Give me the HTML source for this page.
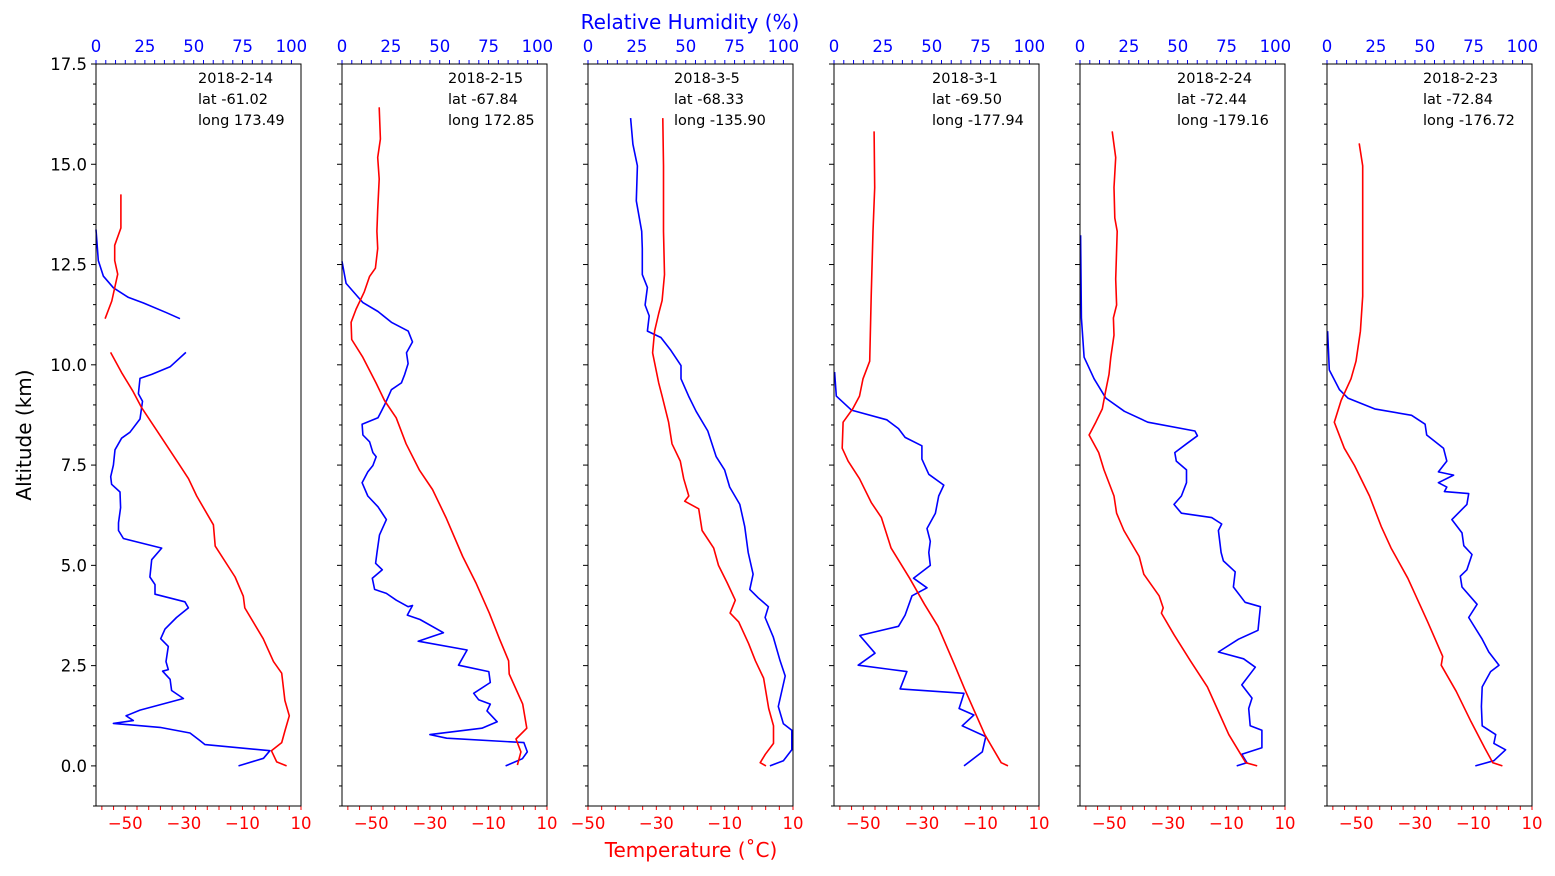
<!DOCTYPE html>
<html><head><meta charset="utf-8"><style>
html,body{margin:0;padding:0;background:#fff;}
svg{display:block;font-family:"DejaVu Sans","Liberation Sans",sans-serif;}
</style></head><body>
<svg id="chart" width="1555" height="876" viewBox="0 0 1555 876" xmlns="http://www.w3.org/2000/svg">
<text x="690" y="29" font-size="20" fill="#0000ff" text-anchor="middle">Relative Humidity (%)</text>
<text x="691" y="857" font-size="20" fill="#ff0000" text-anchor="middle">Temperature (˚C)</text>
<text x="0" y="0" font-size="20" fill="#000" text-anchor="middle" transform="translate(31,435) rotate(-90)">Altitude (km)</text>
</svg>
<script>
// ---- data (altitude km, temperature degC, relative humidity %) ----
const dates = ["2018-2-14","2018-2-15","2018-3-5","2018-3-1","2018-2-24","2018-2-23"];
const lats = ["-61.02","-67.84","-68.33","-69.50","-72.44","-72.84"];
const longs = ["173.49","172.85","-135.90","-177.94","-179.16","-176.72"];
const yTicks = [0,2.5,5,7.5,10,12.5,15,17.5];
const rhTicks = [0,25,50,75,100];
const tTicksA = [-50,-30,-10,10];

// panel 1 (null = data gap)
const p1TAlt = [14.25,13.41,12.98,12.6,12.26,11.59,11.15,null,10.31,9.81,9.33,8.94,8.37,7.55,7.16,6.73,6.01,5.48,4.71,4.23,3.94,3.17,2.6,2.31,1.63,1.25,0.87,0.58,0.38,0.1,0];
const p1T = [-51.5,-51.5,-53.6,-53.6,-52.6,-54.6,-56.9,null,-55.0,-51.3,-47.3,-44.5,-39.3,-31.9,-28.4,-25.6,-19.9,-19.3,-12.5,-9.7,-9.2,-2.9,0.6,3.4,4.5,6.0,4.5,3.4,-0.1,1.7,5.1];
const p1HAlt = [13.37,12.6,12.21,11.92,11.68,11.54,11.3,11.15,null,10.31,9.95,9.76,9.66,9.28,9.09,8.65,8.32,8.17,7.88,7.5,7.21,7.02,6.83,6.44,6.06,5.87,5.67,5.43,5.14,4.71,4.52,4.28,4.09,3.94,3.7,3.41,3.17,2.98,2.6,2.4,2.36,2.16,1.88,1.68,1.39,1.25,1.13,1.06,0.96,0.82,0.63,0.53,0.38,0.19,0];
const p1H = [0,1.2,3.8,8.9,16.6,24.3,36.1,43,null,46,37.9,28.5,22.5,21.7,23.8,22.5,17.4,13.1,9.7,8.9,7.5,8,12.3,12.6,11.5,11.5,14,33.6,28.5,27.6,30.2,30.2,45.5,47.3,41.2,35.3,33.1,37,35.8,37,34.1,37.9,38.7,44.7,22.5,15.4,19.1,8.9,32.8,48.1,53.2,55.8,89,85.7,72.9];

// panel 2
const p2TAlt = [16.42,15.63,15.17,14.63,13.87,13.33,12.9,12.41,12.2,11.82,11.39,11.06,10.63,10.19,9.55,9.11,8.68,8.03,7.38,6.89,6.19,5.22,4.57,3.81,3.16,2.62,2.29,1.54,0.94,0.67,0.35,0.02];
const p2T = [-47.3,-46.9,-47.8,-47.3,-47.8,-48.1,-47.8,-48.6,-50.6,-52.4,-55.2,-56.9,-56.7,-52.9,-48.4,-45.5,-41.5,-38.1,-33.6,-29.1,-24.5,-18.8,-14.3,-9.7,-6.2,-3.1,-2.9,1.7,3.1,-0.6,1.1,-0.1];
const p2HAlt = [12.58,12.03,11.55,11.33,11.06,10.84,10.57,10.3,10.03,9.76,9.55,9.38,9.0,8.68,8.52,8.25,8.08,7.81,7.71,7.49,7.33,7.06,6.73,6.46,6.14,5.76,5.32,5.05,4.89,4.68,4.4,4.3,4.13,3.97,4.0,3.76,3.65,3.32,3.11,2.89,2.51,2.35,2.08,1.81,1.65,1.54,1.37,1.1,0.94,0.78,0.69,0.58,0.35,0.18,0];
const p2H = [0,2.1,10.7,18.4,25.3,33.9,36.1,33,33.8,32.1,30.4,25.3,21.8,18.4,10.3,10.7,14.1,15.8,17.5,15.8,13.2,10.3,13.2,18.4,22.7,19.2,17.9,17.2,20.6,15.5,16.7,22.7,27.8,33.8,36.1,33.4,39.9,51.9,39,64,59.6,75.1,75.9,67.4,69.9,75.9,74.2,79.4,71.6,45,53.6,93.1,94.8,92.3,83.7];

// panel 3
const p3TAlt = [16.15,14.96,13.33,12.25,11.6,11.28,10.84,10.3,9.55,9.22,8.57,8.03,7.6,7.16,6.73,6.6,6.41,5.87,5.43,5.0,4.57,4.13,3.81,3.59,3.05,2.62,2.19,1.43,1.0,0.56,0.29,0.08,0];
const p3T = [-28.1,-27.9,-27.9,-27.6,-28.3,-29.3,-30.5,-31.1,-29.3,-28.3,-26.4,-25.4,-23.0,-22.0,-20.5,-21.7,-17.6,-16.6,-13.2,-11.8,-9.3,-6.9,-8.4,-5.9,-3.0,-1.0,1.4,2.9,4.3,4.3,1.9,0.4,2.1];
const p3HAlt = [16.15,15.5,14.96,14.09,13.33,12.9,12.25,11.93,11.49,11.22,10.84,10.68,10.36,9.98,9.65,9.22,8.84,8.35,7.71,7.38,6.95,6.52,5.97,5.32,4.78,4.4,4.19,3.97,3.7,3.21,2.62,2.24,1.48,1.05,0.89,0.4,0.13,0];
const p3H = [21.8,23.0,25.3,24.7,27.5,27.8,27.8,30.4,29.2,31.3,30.4,37.3,42.4,47.6,47.6,51.5,55.3,61.3,65.6,69.9,72.5,77.7,80.2,82,84.5,82.8,87.1,92.3,90.6,94.8,98.3,100.9,97.4,100,104.3,104.3,100,93.1];

// panel 4
const p4TAlt = [15.82,14.42,13.33,11.71,10.09,9.65,9.22,8.9,8.57,7.92,7.6,7.16,6.57,6.19,5.43,4.68,4.03,3.48,2.51,1.92,0.78,0.08,0];
const p4T = [-46.3,-46.1,-46.7,-47.3,-47.8,-50.1,-51.3,-53.6,-56.9,-57.2,-55.2,-51.3,-47.3,-43.8,-40.5,-34.2,-29.1,-24.5,-18.8,-15.4,-8.5,-2.9,-0.6];
const p4HAlt = [9.82,9.22,8.87,8.63,8.41,8.19,7.98,7.65,7.27,7.0,6.73,6.3,5.92,5.6,5.32,5.0,4.68,4.44,4.24,3.76,3.48,3.25,2.81,2.51,2.35,1.92,1.81,1.43,1.27,1.0,0.73,0.35,0];
const p4H = [0.3,1.2,8.9,27,33,36.4,45,45,48.5,56.2,53.6,51.9,47.6,49.3,48.5,49.3,40.7,47.6,39.9,36.4,33,13.2,21,12.4,37.3,33.8,66.5,64,71.6,65.6,77.7,75.9,66.5];

// panel 5
const p5TAlt = [15.82,15.17,14.42,13.66,13.33,12.14,11.49,11.17,10.74,10.19,9.76,9.33,8.9,8.57,8.25,7.81,7.38,6.73,6.3,5.87,5.22,4.78,4.24,3.94,3.81,3.27,2.62,1.97,1.43,0.78,0.08,0];
const p5T = [-49.0,-47.8,-48.4,-48.1,-47.3,-47.8,-47.5,-48.6,-48.4,-49.5,-50.1,-51.3,-52.4,-54.6,-56.9,-53.6,-51.8,-48.4,-47.5,-45.0,-39.8,-38.2,-33.0,-31.6,-32.2,-27.9,-22.3,-16.5,-13.2,-9.2,-3.4,0.5];
const p5HAlt = [13.23,11.17,10.19,9.65,9.17,8.84,8.57,8.35,8.23,8.03,7.81,7.6,7.38,7.06,6.73,6.52,6.3,6.19,6.03,5.87,5.32,5.11,4.84,4.46,4.08,3.97,3.38,3.16,2.84,2.67,2.46,2.02,1.69,1.43,1.0,0.89,0.45,0.29,0.08,0];
const p5H = [0.3,0.7,2.1,7.2,13.2,22.7,34.7,58.8,60.1,54.5,48.5,49.3,54.5,54.5,51.9,48.1,51.9,67.4,72.5,70.8,72.2,73.4,79.4,78.5,84.5,92.3,91.1,81.1,70.8,83.7,89.7,82.8,88,86.3,87.1,93.1,93.1,82.8,85.4,80.2];

// panel 6
const p6TAlt = [15.52,14.96,13.33,11.71,10.84,10.09,9.65,9.11,8.57,7.92,7.49,6.73,5.97,5.43,4.68,3.59,2.73,2.51,1.86,1.1,0.45,0.08,0];
const p6T = [-49.0,-47.8,-47.8,-47.8,-48.6,-50.1,-51.8,-55.2,-57.5,-54.1,-50.6,-45.5,-41.5,-38.1,-32.4,-25.6,-20.5,-21.0,-15.9,-10.8,-6.2,-3.4,-0.1];
const p6HAlt = [10.84,9.87,9.38,9.17,8.9,8.74,8.52,8.25,7.92,7.6,7.33,7.25,7.06,6.95,6.84,6.79,6.52,6.14,5.81,5.49,5.27,4.89,4.73,4.46,4.03,3.7,3.16,2.84,2.51,2.35,1.97,1.48,1.0,0.78,0.56,0.4,0.13,0];
const p6H = [0.3,1.2,6.4,10.7,24.4,43.3,50.2,51,59.6,61.3,57.0,64.8,57.0,61.3,60.1,72.5,71.6,63.9,69.1,70.0,74.2,71.6,68.2,69.1,76.8,72.5,79.4,82.8,88,83.7,79.4,79.0,79.4,86.3,85.4,91.4,85.4,75.9];

const panelsT = [[p1TAlt,p1T],[p2TAlt,p2T],[p3TAlt,p3T],[p4TAlt,p4T],[p5TAlt,p5T],[p6TAlt,p6T]];
const panelsH = [[p1HAlt,p1H],[p2HAlt,p2H],[p3HAlt,p3H],[p4HAlt,p4H],[p5HAlt,p5H],[p6HAlt,p6H]];
const tDomains = [[-60,10],[-60,10],[-50,10],[-60,10],[-60,10],[-60,10]];

// ---- layout ----
const NS = "http://www.w3.org/2000/svg";
const svg = document.getElementById('chart');
const X0 = [96,342,588,834,1080,1327], PW = 205, TOP = 64, BOT = 806;
const yMin = -1, yMax = 17.5, rhMax = 104.9;
function yS(a){ return BOT - (a - yMin) / (yMax - yMin) * (BOT - TOP); }
function mk(tag, attrs, parent){ const e = document.createElementNS(NS, tag); for (const k in attrs) e.setAttribute(k, attrs[k]); (parent || svg).appendChild(e); return e; }
function buildPath(alts, vals, xf){
  let d = '', pen = false;
  for (let i = 0; i < alts.length; i++){
    if (alts[i] === null || vals[i] === null){ pen = false; continue; }
    d += (pen ? 'L' : 'M') + xf(vals[i]).toFixed(1) + ',' + yS(alts[i]).toFixed(1);
    pen = true;
  }
  return d;
}

for (let p = 0; p < 6; p++){
  const x0 = X0[p];
  const td = tDomains[p];
  const tS = v => x0 + (v - td[0]) / (td[1] - td[0]) * PW;
  const hS = v => x0 + v / rhMax * PW;
  const g = mk('g', {});
  
  

  for (let a = -1; a <= 17.5001; a += 0.5){
    const major = Math.abs(a / 2.5 - Math.round(a / 2.5)) < 1e-6;
    const y = yS(a);
    const tk = mk('line', {x1: x0 - (major ? 5 : 3), x2: x0, y1: y, y2: y, stroke: '#000', 'stroke-width': 1}, g);
    
    
  }
  if (p === 0){
    yTicks.forEach(v => {
      const t = mk('text', {x: x0 - 9, y: yS(v) + 6, 'font-size': 16.5, 'text-anchor': 'end', fill: '#000'}, g);
      t.textContent = v.toFixed(1);
      
      
    });
  }
  for (let v = 0; v <= rhMax; v += 5){
    const x = hS(v);
    const tk = mk('line', {x1: x, x2: x, y1: TOP, y2: TOP - 4, stroke: '#0000ff', 'stroke-width': 1}, g);
    
    
  }
  rhTicks.forEach(v => {
    const t = mk('text', {x: hS(v), y: TOP - 12, 'font-size': 16.5, 'text-anchor': 'middle', fill: '#0000ff'}, g);
    t.textContent = String(v);
    
    
  });
  for (let v = td[1]; v >= td[0] - 1e-6; v -= 4){
    const x = tS(v);
    const tk = mk('line', {x1: x, x2: x, y1: BOT, y2: BOT + 4, stroke: '#ff0000', 'stroke-width': 1}, g);
    
    
  }
  tTicksA.forEach(v => {
    const t = mk('text', {x: tS(v), y: BOT + 23, 'font-size': 16.5, 'text-anchor': 'middle', fill: '#ff0000'}, g);
    t.textContent = (v < 0 ? '\u2212' + Math.abs(v) : String(v));
    
    
  });

  const hp = mk('path', {d: buildPath(panelsH[p][0], panelsH[p][1], hS), fill: 'none', stroke: '#0000ff', 'stroke-width': 1.6, 'stroke-linejoin': 'round'}, g);
  
  
  const tp = mk('path', {d: buildPath(panelsT[p][0], panelsT[p][1], tS), fill: 'none', stroke: '#ff0000', 'stroke-width': 1.6, 'stroke-linejoin': 'round'}, g);
  
  

  const fr = mk('rect', {x: x0, y: TOP, width: PW, height: BOT - TOP, fill: 'none', stroke: '#000', 'stroke-width': 1}, g);
  
  

  const offs = [102,106,86,98,97,96];
  const lines = [dates[p], 'lat ' + lats[p], 'long ' + longs[p]];
  lines.forEach((s, i) => {
    const t = mk('text', {x: x0 + offs[p], y: 83 + i * 21, 'font-size': 14.5, fill: '#000'}, g);
    t.textContent = s;
    
    
  });
}
</script>
</body></html>
